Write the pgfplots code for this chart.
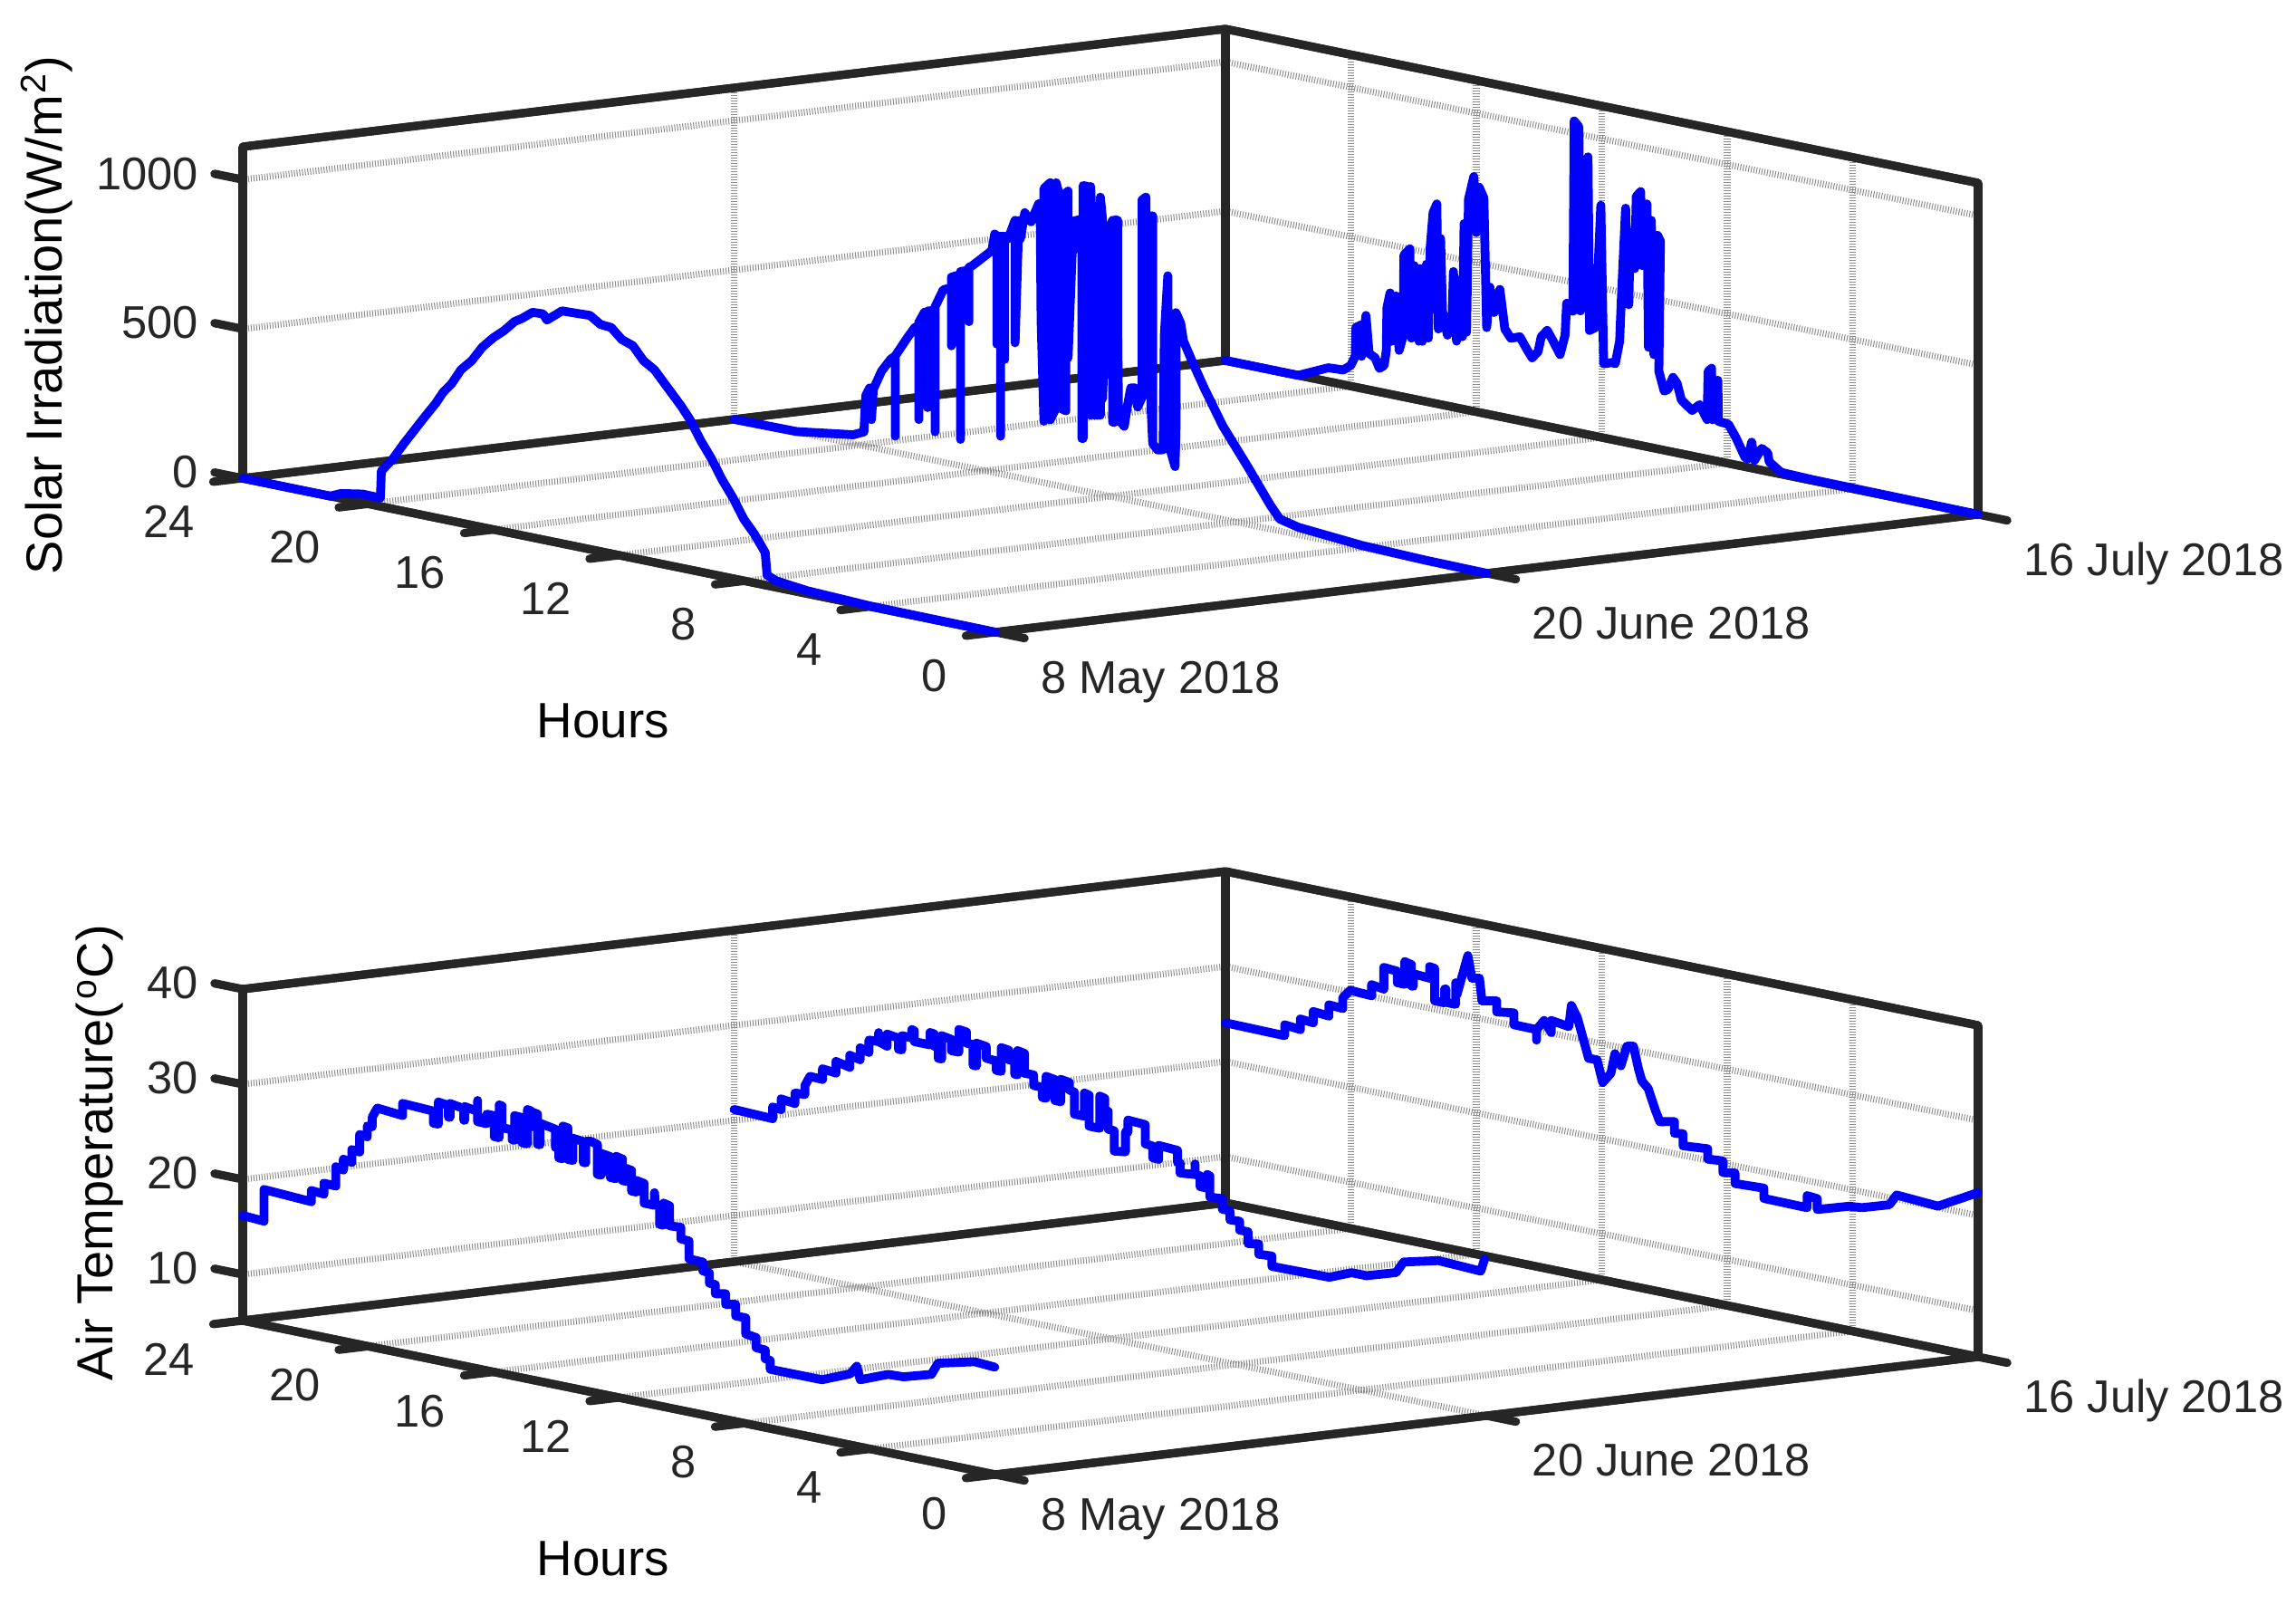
\documentclass[border=0pt]{standalone}
\usepackage{fontspec}
\setmainfont{Liberation Sans}
\usepackage{pgfplots}
\pgfplotsset{compat=1.18}

\definecolor{axisgray}{RGB}{38,38,38}

% 1 px of the reference = 0.5pt
\pgfplotsset{
  dayaxis/.style={
    anchor=south west,
    x={(271.25pt,32.5pt)},
    y={(-17.3125pt,3.5417pt)},
    xmin=0, xmax=2, ymin=0, ymax=24,
    clip=false,
    grid=major,
    grid style={line width=3.6pt, black!45, dash pattern=on 0.5pt off 1pt},
    axis line style={line width=4.6pt, axisgray},
    tick align=outside,
    major tick length=16.5pt,
    tick style={draw=none},
    xtick={0,1,2},
    xticklabels={8 May 2018,20 June 2018,16 July 2018},
    ytick={0,4,8,12,16,20,24},
    /pgf/number format/assume math mode=true,
    /pgf/number format/1000 sep={},
    tick label style={font=\fontsize{25.3}{30}\selectfont, text=axisgray},
    zticklabel style={anchor=east, xshift=-4.8pt, yshift=0pt},
    ylabel={Hours},
  },
  hourlabel/.style={every axis y label/.style={at={(rel axis cs:-0.527,-0.167,0)}, anchor=center,
      yshift=#1, font=\fontsize{27.4}{32}\selectfont}},
  ticklabelshift/.style 2 args={
    xticklabel style={anchor=west, xshift=5.5pt, yshift=#1},
    yticklabel style={anchor=east, xshift=-6.6pt, yshift=#2},
  },
  daycurve/.style={line width=4.9pt, color={rgb,255:red,0;green,0;blue,255}, line join=round, line cap=round, no markers},
}
\tikzset{
  majtick/.style={line width=4.6pt, axisgray, line cap=round},
  boxline/.style={line width=4.6pt, axisgray, line join=round},
}

% frame again over the grid; ticks lie in the planes of the box, as in the reference
\newcommand{\boxticks}[3]{%
  \draw[boxline] (axis cs:0,0,#1) -- (axis cs:2,0,#1) -- (axis cs:2,24,#1) -- (axis cs:0,24,#1) -- cycle;
  \draw[boxline] (axis cs:0,24,#1) -- (axis cs:0,24,#2) -- (axis cs:2,24,#2) -- (axis cs:2,0,#2) -- (axis cs:2,0,#1);
  \draw[boxline] (axis cs:2,24,#1) -- (axis cs:2,24,#2);
  \pgfplotsinvokeforeach{0,1,2}{\draw[majtick] (axis cs:##1,0,#1) -- (axis cs:##1,-0.93,#1);}
  \pgfplotsinvokeforeach{0,4,8,12,16,20,24}{\draw[majtick] (axis cs:0,##1,#1) -- (axis cs:-0.06,##1,#1);}
  \pgfplotsinvokeforeach{#3}{\draw[majtick] (axis cs:0,24,##1) -- (axis cs:0,24.9,##1);}
}

\begin{document}
\begin{tikzpicture}
\useasboundingbox (0,0) rectangle (1267.5pt,885.5pt);

\begin{axis}[dayaxis, hourlabel=-0.5pt, ticklabelshift={-24pt}{-22pt},
    at={(134pt,536.5pt)},
    z={(0pt,0.16486pt)},
    zmin=0, zmax=1110,
    ztick={0,500,1000},
    zlabel={Solar Irradiation(W/m\hspace{1pt}\textsuperscript{2})},
    every axis z label/.style={at={(rel axis cs:0,1.26,0.371)}, anchor=center, rotate=90,
      font=\fontsize{28}{32}\selectfont},
  ]
  \boxticks{0}{1110}{0,500,1000}
  % 8 May
  \addplot3[daycurve] coordinates {
    (0,24,0)(0,21.21,0)(0,20.87,16)(0,20.18,29)(0,19.61,28)(0,19.58,119)(0,19.21,168)(0,18.87,225)(0,18.53,278)
    (0,18.19,331)(0,17.84,384)(0,17.61,425)(0,17.33,461)(0,17.04,513)(0,16.70,550)(0,16.36,603)(0,16.02,641)
    (0,15.67,673)(0,15.33,711)(0,15.1,726)(0,14.76,754)
    (0,14.42,756)(0,14.30,738)(0,13.82,779)(0,13.33,781)(0,12.93,783)(0,12.59,760)(0,12.25,757)(0,11.91,724)
    (0,11.56,711)(0,11.22,668)(0,10.87,645)(0,10.59,611)
    (0,10.3,576)(0,10.02,542)(0,9.74,503)(0,9.39,439)(0,9.05,386)(0,8.71,323)(0,8.36,269)(0,8.02,206)(0,7.68,163)
    (0,7.34,109)(0,7.28,35)(0,7.0,22)(0,6,10)(0,4,2)(0,0,0)
  };
  % 20 June
  \addplot3[daycurve] coordinates {
    (1,24,0)(1,22,2)(1,20.2,30)(1,19.86,47)(1,19.8,170)(1,19.68,198)(1,19.62,198)(1,19.62,93)(1,19.56,196)
    (1,19.3,262)(1,19.01,308)(1,18.86,323)(1,18.86,54)(1,18.86,323)(1,18.48,391)(1,18.24,431)(1,18.11,440)
    (1,18.11,126)(1,18.11,451)(1,17.93,489)(1,17.83,489)(1,17.83,172)(1,17.83,495)(1,17.74,498)(1,17.59,500)
    (1,17.59,96)(1,17.59,515)(1,17.33,577)(1,17.07,590)(1,17.07,395)(1,17.07,625)(1,16.78,640)(1,16.78,88)
    (1,16.78,650)(1,16.51,660)(1,16.51,488)(1,16.51,670)(1,16.41,677)(1,16.03,716)(1,15.78,742)(1,15.69,799)
    (1,15.62,793)(1,15.62,432)(1,15.62,793)(1,15.5,795)(1,15.5,126)(1,15.5,795)(1,15.37,798)(1,15.37,386)
    (1,15.37,798)(1,15.26,793)(1,15.04,859)(1,15.04,449)(1,14.92,861)(1,14.87,801)(1,14.73,891)(1,14.53,865)
    (1,14.29,930)(1,14.24,932)(1,14.21,543)(1,14.12,206)(1,14.12,985)(1,13.92,1009)(1,13.92,215)(1,13.73,260)
    (1,13.73,1013)(1,13.63,975)(1,13.63,262)(1,13.42,256)(1,13.42,985)(1,13.35,993)(1,13.35,435)(1,13.18,896)
    (1,13.18,797)(1,13.18,896)(1,12.91,909)(1,12.91,174)(1,12.87,175)(1,12.87,1022)(1,12.73,1022)(1,12.73,453)
    (1,12.63,258)(1,12.63,1024)(1,12.51,701)(1,12.51,261)(1,12.32,265)(1,12.32,995)(1,12.25,919)(1,12.25,322)
    (1,12.15,633)(1,12.15,860)(1,11.93,926)(1,11.93,250)(1,11.86,251)(1,11.86,929)(1,11.77,929)(1,11.77,570)
    (1,11.74,263)(1,11.56,244)(1,11.45,319)(1,11.35,377)(1,11.23,380)(1,11.13,318)(1,10.99,354)(1,10.99,1014)
    (1,10.87,1026)(1,10.87,797)(1,10.71,967)(1,10.71,335)(1,10.65,205)(1,10.65,968)(1,10.65,205)(1,10.49,188)
    (1,10.32,192)(1,10.28,577)(1,10.17,778)(1,10.17,225)(1,9.94,144)(1,9.91,271)(1,9.91,660)(1,9.76,628)
    (1,9.67,570)(1,9.38,505)(1,8.99,423)(1,8.61,350)(1,8.42,313)(1,7.6,190)(1,6.9,80)(1,6.6,40)(1,6.0,25)
    (1,4,8)(1,2,2)(1,0,0)
  };
  % 16 July
  \addplot3[daycurve] coordinates {
    (2,24,0)(2,21.68,0)(2,20.72,46)(2,20.24,49)(2,20.0,70)(2,19.86,103)(2,19.84,200)(2,19.66,213)
    (2,19.66,107)(2,19.52,247)(2,19.42,122)(2,19.23,112)(2,19.09,79)(2,18.94,92)(2,18.87,144)
    (2,18.85,287)(2,18.75,339)(2,18.7,178)(2,18.56,333)(2,18.46,153)(2,18.33,206)(2,18.31,475)
    (2,18.12,500)(2,18.07,202)(2,17.98,447)(2,17.83,197)(2,17.79,441)(2,17.72,199)(2,17.59,460)
    (2,17.53,214)(2,17.47,519)(2,17.38,637)(2,17.26,669)(2,17.21,251)(2,17.14,556)(2,17.08,314)
    (2,16.92,237)(2,16.77,311)(2,16.73,454)(2,16.63,223)(2,16.51,432)(2,16.44,242)(2,16.39,622)
    (2,16.31,260)(2,16.25,706)(2,16.08,786)(2,16.0,600)(2,15.91,754)(2,15.76,721)(2,15.67,289)
    (2,15.57,427)(2,15.43,345)(2,15.25,426)(2,15.09,297)(2,14.9,270)(2,14.61,281)(2,14.37,241)
    (2,14.22,219)(2,14.03,244)(2,13.93,296)(2,13.74,321)(2,13.55,289)(2,13.33,249)(2,13.17,317)
    (2,13.12,425)(2,12.92,403)(2,12.88,1041)(2,12.73,1024)(2,12.68,409)(2,12.59,835)(2,12.44,930)
    (2,12.39,350)(2,12.2,364)(2,12.03,777)(2,11.94,248)(2,11.67,258)(2,11.57,256)(2,11.43,335)
    (2,11.38,467)(2,11.24,784)(2,11.14,463)(2,11.09,706)(2,10.95,588)(2,10.9,831)(2,10.76,850)
    (2,10.71,603)(2,10.56,813)(2,10.51,334)(2,10.42,761)(2,10.34,313)(2,10.22,715)(2,10.13,697)
    (2,10.18,261)(2,10.01,198)(2,9.89,206)(2,9.73,250)(2,9.6,233)(2,9.46,180)(2,9.12,152)
    (2,8.88,177)(2,8.64,132)(2,8.61,294)(2,8.5,307)(2,8.47,135)(2,8.3,271)(2,8.28,134)(2,7.96,131)
    (2,7.72,91)(2,7.43,31)(2,7.34,29)(2,7.22,87)(2,7.13,28)(2,6.9,73)(2,6.71,62)(2,6.66,33)
    (2,6.28,6)(2,5.3,3)(2,0,0)
  };
\end{axis}

\begin{axis}[dayaxis, hourlabel=2pt, ticklabelshift={-21pt}{-19.5pt},
    at={(134pt,71.5pt)},
    z={(0pt,5.25pt)},
    zmin=5.15, zmax=40,
    ztick={10,20,30,40},
    zlabel={Air Temperature(\hspace{2pt}\textsuperscript{o}C)},
    every axis z label/.style={at={(rel axis cs:0,1.19,0.418)}, anchor=center, rotate=90,
      font=\fontsize{28}{32}\selectfont},
  ]
  \boxticks{5.15}{40}{10,20,30,40}
  % 8 May
  \addplot3[daycurve] coordinates {
    (0,24,16.2)(0,23.32,16.06)(0,23.32,19.39)(0,21.81,19.13)(0,21.81,20.3)(0,21.41,20.2)(0,21.41,21.34)
    (0,21.03,21.3)(0,21.03,23.33)(0,20.79,23.15)(0,20.79,24.28)(0,20.52,24.14)(0,20.52,25.47)
    (0,20.27,25.4)(0,20.27,27.22)(0,20.03,27.16)(0,20.03,28.3)(0,19.87,28.3)(0,19.87,29.33)(0,19.71,30.39)
    (0,18.9,30.15)(0,18.9,31.42)(0,17.92,31.28)(0,17.92,30.01)(0,17.76,30.01)(0,17.76,32.34)(0,17.44,32.2)
    (0,17.44,30.97)(0,17.39,30.97)(0,17.39,32.43)(0,16.95,32.2)(0,16.95,30.98)(0,16.92,30.98)(0,16.92,32.43)
    (0,16.51,32.2)(0,16.51,33.35)(0,16.51,31.12)(0,16.22,31.1)(0,16.22,32.11)(0,15.98,32.1)(0,15.98,29.9)
    (0,15.82,29.9)(0,15.82,33.34)(0,15.73,33.3)(0,15.73,31.01)(0,15.41,31)(0,15.41,29.96)(0,15.33,29.96)
    (0,15.33,32.55)(0,15.09,32.5)(0,15.09,29.86)(0,14.92,29.86)(0,14.92,33.46)(0,14.81,33.4)(0,14.81,31.79)
    (0,14.73,31.79)(0,14.73,33.28)(0,14.6,33.2)(0,14.6,30.03)(0,14.52,30.03)(0,14.52,32.3)(0,14.03,32.0)
    (0,14.03,30.09)(0,13.92,30.09)(0,13.92,29.05)(0,13.79,29.05)(0,13.79,32.48)(0,13.63,32.4)(0,13.63,29.09)
    (0,13.47,29.09)(0,13.47,31.43)(0,13.14,31.3)(0,13.14,29.11)(0,13.06,29.11)(0,13.06,31.38)(0,12.9,31.49)
    (0,12.69,31.3)(0,12.69,28.15)(0,12.57,28.15)(0,12.57,30.44)(0,12.28,30.3)(0,12.28,28.1)(0,12.09,28.1)
    (0,12.09,30.45)(0,11.89,30.3)(0,11.89,28.04)(0,11.76,28.04)(0,11.76,29.4)(0,11.6,29.3)(0,11.6,27.13)
    (0,11.44,27.13)(0,11.44,28.35)(0,11.2,28.2)(0,11.2,26.13)(0,10.87,26.13)(0,10.87,27.46)(0,10.84,26.21)
    (0,10.71,26.21)(0,10.71,24.24)(0,10.58,24.24)(0,10.58,26.55)(0,10.39,26.4)(0,10.39,24.3)(0,10.03,24.38)
    (0,10.03,23.17)(0,9.77,23.12)(0,9.77,21.24)(0,9.33,21.2)(0,9.33,20.28)(0,9.12,20.2)(0,9.12,19.12)
    (0,8.93,19.1)(0,8.93,18.14)(0,8.6,18.36)(0,8.6,17.24)(0,8.28,17.46)(0,8.28,16.24)(0,7.96,16.26)
    (0,7.96,14.56)(0,7.63,14.41)(0,7.63,13.35)(0,7.34,13.3)(0,7.34,12.38)(0,7.18,12.3)(0,7.18,11.38)
    (0,5.53,11.39)(0,4.63,12.62)(0,4.42,13.56)(0,4.31,12.21)(0,3.42,13.38)(0,2.93,13.45)
    (0,2.04,14.31)(0,1.83,15.62)(0,0.66,16.57)(0,0.02,16.43)
  };
  % 20 June
  \addplot3[daycurve] coordinates {
    (1,24,21.16)(1,22.77,21.02)(1,22.77,22.24)(1,22.5,22.16)(1,22.5,23.28)(1,22.06,23.09)(1,22.06,24.2)
    (1,21.74,24.25)(1,21.74,25.21)(1,21.58,26.27)(1,21.18,26.22)(1,21.18,27.33)(1,20.75,27.18)
    (1,20.75,28.4)(1,20.31,28.08)(1,20.31,29.35)(1,19.98,29.1)(1,19.98,30.35)(1,19.7,30.06)
    (1,19.7,31.36)(1,19.39,31.4)(1,19.39,32.35)(1,19.39,31.4)(1,19.12,31.1)(1,19.12,32.37)(1,18.76,32.2)
    (1,18.76,31.03)(1,18.65,31.03)(1,18.65,32.53)(1,18.33,32.5)(1,18.33,33.38)(1,18.25,33.3)(1,18.25,32.17)
    (1,17.75,32.17)(1,17.75,33.46)(1,17.62,33.4)(1,17.62,32.11)(1,17.49,32.11)(1,17.49,30.93)(1,17.38,30.93)
    (1,17.38,33.38)(1,17.07,33.2)(1,17.07,32.02)(1,16.83,32.02)(1,16.83,34.4)(1,16.59,34.3)(1,16.59,33.13)
    (1,16.38,33.13)(1,16.38,30.95)(1,16.27,30.95)(1,16.27,33.34)(1,15.96,33.2)(1,15.96,31.97)(1,15.64,31.9)
    (1,15.64,30.91)(1,15.48,30.91)(1,15.48,33.4)(1,15.24,33.3)(1,15.24,32.29)(1,15.05,32.29)(1,15.05,30.9)
    (1,14.96,30.9)(1,14.96,33.44)(1,14.74,33.3)(1,14.74,31.21)(1,14.45,31.24)(1,14.45,30.13)(1,14.17,30.1)
    (1,14.17,29.05)(1,14.05,29.05)(1,14.05,31.35)(1,13.77,31.2)(1,13.77,29)(1,13.58,29)(1,13.58,31.35)
    (1,13.31,31.2)(1,13.31,30.42)(1,13.15,30.3)(1,13.15,27.99)(1,12.83,27.99)(1,12.83,30.42)(1,12.68,30.3)
    (1,12.68,27.04)(1,12.34,27.04)(1,12.34,30.43)(1,12.18,30.3)(1,12.18,29.12)(1,12.07,29)(1,12.07,27.13)
    (1,11.88,27.09)(1,11.88,24.96)(1,11.52,25.12)(1,11.52,27.23)(1,11.44,27.23)(1,11.44,28.51)(1,10.89,28.41)
    (1,10.89,26.4)(1,10.65,26.3)(1,10.65,25.08)(1,10.46,25.05)(1,10.46,26.51)(1,9.86,26.4)(1,9.86,25.13)
    (1,9.78,25.13)(1,9.78,24.07)(1,9.3,24.24)(1,9.3,25.35)(1,9.3,24.24)(1,9.14,24.2)(1,9.14,23.07)(1,8.91,23.07)
    (1,8.91,24.5)(1,8.83,24.4)(1,8.83,22.18)(1,8.43,22.28)(1,8.43,21.17)(1,8.19,21.17)(1,8.19,20.22)
    (1,7.88,20.28)(1,7.88,19.35)(1,7.61,19.35)(1,7.61,18.11)(1,7.27,18.3)(1,7.27,17.22)(1,6.85,17.32)
    (1,6.85,16.23)(1,5.02,16.32)(1,4.31,17.28)(1,3.84,17.28)(1,2.89,18.25)(1,2.65,19.52)(1,1.54,20.42)
    (1,0.19,20.22)(1,0.07,21.58)
  };
  % 16 July
  \addplot3[daycurve] coordinates {
    (2,24,24.08)(2,22.11,24.0)(2,22.11,25.14)(2,21.61,24.98)(2,21.61,26.09)(2,21.2,25.97)(2,21.2,27.15)
    (2,20.7,27.02)(2,20.7,28.19)(2,20.26,28.11)(2,20.26,29.24)(2,20.02,30.18)(2,19.34,30.07)(2,19.34,31.23)
    (2,18.95,31.03)(2,18.95,33.31)(2,18.52,33.2)(2,18.52,31.99)(2,18.28,31.99)(2,18.28,34.37)(2,18.07,34.2)
    (2,18.07,31.96)(2,18.01,31.96)(2,18.01,33.28)(2,17.49,33.16)(2,17.49,34.38)(2,17.33,34.3)(2,17.33,30.89)
    (2,17.01,30.89)(2,17.01,32.37)(2,16.97,32.37)(2,16.97,30.97)(2,16.66,30.97)(2,16.66,33.24)(2,16.62,32)
    (2,16.27,36.36)(2,16.14,34.07)(2,15.9,34.23)(2,15.82,31.9)(2,15.35,32.22)(2,15.35,31.06)(2,14.8,31.33)
    (2,14.8,30.08)(2,14.08,30.06)(2,14.08,28.95)(2,14.08,30.06)(2,13.84,31.17)(2,13.61,30.06)(2,13.61,31.33)
    (2,13.05,31.07)(2,12.97,33.35)(2,12.78,32.21)(2,12.58,29.96)(2,12.42,28.16)(2,12.15,28.18)(2,11.97,25.92)
    (2,11.71,27.06)(2,11.58,29.21)(2,11.39,28.07)(2,11.2,30.25)(2,10.99,30.39)(2,10.83,28.12)(2,10.72,26.92)
    (2,10.52,26.27)(2,10.41,25.24)(2,10.28,24.05)(2,10.15,23.03)(2,9.68,23.35)(2,9.68,22.12)(2,9.41,22.26)
    (2,9.41,20.99)(2,8.62,21.21)(2,8.62,20.13)(2,8.14,20.26)(2,8.14,19.04)(2,7.75,19.25)(2,7.75,18.14)
    (2,6.83,18.28)(2,6.83,17.2)(2,5.45,17.15)(2,5.45,18.42)(2,5.13,18.32)(2,5.13,17.18)(2,4.1,18.22)
    (2,3.71,18.33)(2,2.83,19.23)(2,2.6,20.41)(2,1.28,20.13)(2,0.01,22.4)
  };
\end{axis}
\end{tikzpicture}
\end{document}
